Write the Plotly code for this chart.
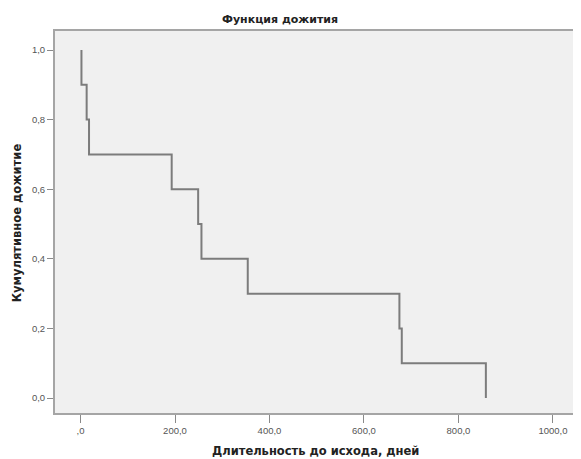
import plotly.graph_objects as go

# Event times (days) and survival after each event
times = [2, 13, 18, 193, 249, 256, 354, 675, 680, 858]
surv = [0.9, 0.8, 0.7, 0.6, 0.5, 0.4, 0.3, 0.2, 0.1, 0.0]
start_time = 2
start_surv = 1.0

x_ticks = [0, 200, 400, 600, 800, 1000]
x_tick_labels = [",0", "200,0", "400,0", "600,0", "800,0", "1000,0"]
y_ticks = [0.0, 0.2, 0.4, 0.6, 0.8, 1.0]
y_tick_labels = ["0,0", "0,2", "0,4", "0,6", "0,8", "1,0"]

xs = [start_time] + times
ys = [start_surv] + surv

fig = go.Figure()
fig.add_trace(go.Scatter(
    x=xs, y=ys, mode="lines", line=dict(shape="hv", color="#7c7c7c", width=2),
    hoverinfo="skip", showlegend=False))

tick_family = "Liberation Sans, Arial, sans-serif"
title_family = "DejaVu Sans, sans-serif"
fig.update_layout(
    width=573, height=451,
    margin=dict(l=47, r=1, t=23, b=46),
    paper_bgcolor="white", plot_bgcolor="#f0f0f0",
    font=dict(family=tick_family, size=9, color="#555555"),
    showlegend=False,
)
fig.update_xaxes(
    range=[-54, 1053], tickvals=x_ticks, ticktext=x_tick_labels,
    showgrid=False, zeroline=False, showline=True, mirror=True,
    linecolor="#a5a5a5", linewidth=2, ticks="outside", ticklen=8,
    tickcolor="#8a8a8a", tickfont=dict(size=9.5, color="#555555"))
fig.update_yaxes(
    range=[-0.043, 1.0546], tickvals=y_ticks, ticktext=y_tick_labels,
    showgrid=False, zeroline=False, showline=True, mirror=True,
    linecolor="#a5a5a5", linewidth=2, ticks="outside", ticklen=6,
    tickcolor="#8a8a8a", tickfont=dict(size=9.5, color="#555555"))

fig.add_annotation(text="<b>Функция дожития</b>", xref="paper", yref="paper",
                   x=0.43, y=1.0314, showarrow=False, xanchor="center", yanchor="middle",
                   font=dict(size=11, color="#222222", family=title_family))
fig.add_annotation(text="<b>Длительность до исхода, дней</b>", xref="paper", yref="paper",
                   x=0.499, y=-0.0995, showarrow=False, xanchor="center", yanchor="middle",
                   font=dict(size=11.5, color="#222222", family=title_family))
fig.add_annotation(text="<b>Кумулятивное дожитие</b>", xref="paper", yref="paper",
                   x=-0.0724, y=0.497, showarrow=False, xanchor="center", yanchor="middle",
                   textangle=-90, font=dict(size=11.5, color="#222222", family=title_family))

fig.write_html("out.html")
